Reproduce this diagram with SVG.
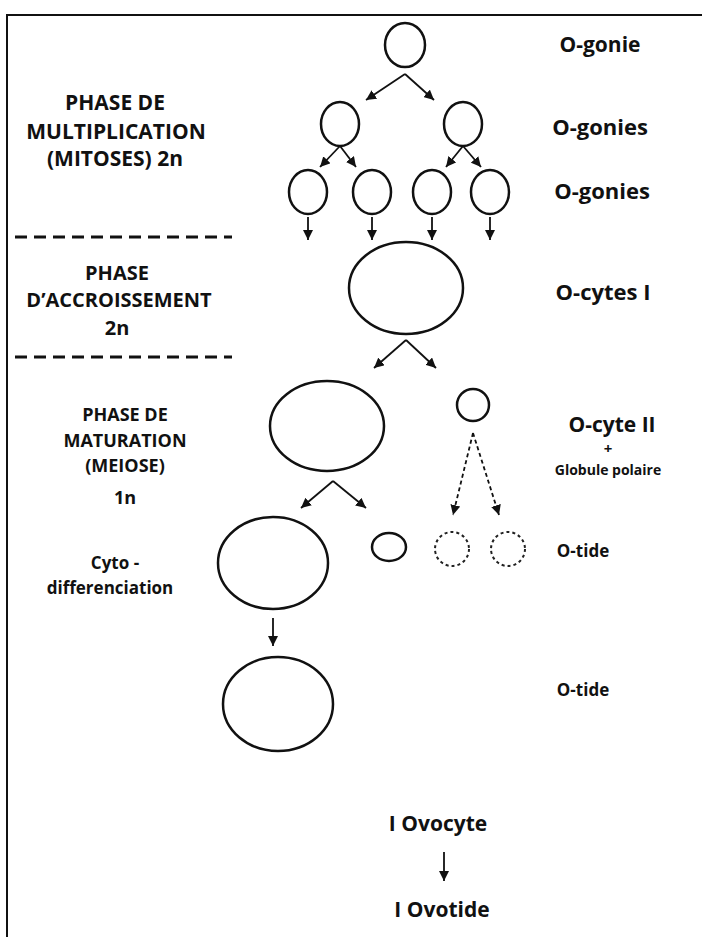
<svg xmlns="http://www.w3.org/2000/svg" width="702" height="937" viewBox="0 0 702 937">
<style>
.t{font-family:"Open Sans","Liberation Sans",sans-serif;font-weight:700;fill:#111;}
.c{fill:none;stroke:#111;stroke-width:2.5;}
.d{fill:none;stroke:#222;stroke-width:2;stroke-dasharray:3 3;}
.a{fill:none;stroke:#111;stroke-width:1.8;}
.ad{fill:none;stroke:#111;stroke-width:1.8;stroke-dasharray:4 3;}
.sep{stroke:#111;stroke-width:3;stroke-dasharray:12 7;}
</style>
<defs>
<marker id="ah" viewBox="0 0 10 10" refX="10" refY="5" markerWidth="10" markerHeight="10" markerUnits="userSpaceOnUse" orient="auto">
<path d="M0,0 L10,5 L0,10 z" fill="#111"/>
</marker>
</defs>
<rect x="0" y="0" width="702" height="937" fill="#fff"/>
<rect x="7" y="15" width="730" height="960" fill="none" stroke="#111" stroke-width="2"/>

<g id="labels-left">
<text class="t" x="115" y="110" font-size="21" text-anchor="middle">PHASE DE</text>
<text class="t" x="116" y="139" font-size="21" text-anchor="middle">MULTIPLICATION</text>
<text class="t" x="115" y="166" font-size="21" text-anchor="middle">(MITOSES) 2n</text>
<line class="sep" x1="15" y1="237" x2="232" y2="237"/>
<text class="t" x="117" y="280" font-size="20" text-anchor="middle">PHASE</text>
<text class="t" x="119" y="307" font-size="20" text-anchor="middle">D’ACCROISSEMENT</text>
<text class="t" x="117" y="335" font-size="20" text-anchor="middle">2n</text>
<line class="sep" x1="15" y1="357" x2="232" y2="357"/>
<text class="t" x="125" y="421" font-size="18" text-anchor="middle">PHASE DE</text>
<text class="t" x="125" y="447" font-size="18" text-anchor="middle">MATURATION</text>
<text class="t" x="125" y="472" font-size="18" text-anchor="middle">(MEIOSE)</text>
<text class="t" x="125" y="504" font-size="18" text-anchor="middle">1n</text>
<text class="t" x="115" y="569" font-size="17" text-anchor="middle">Cyto -</text>
<text class="t" x="110" y="594" font-size="17" text-anchor="middle">differenciation</text>
</g>

<g id="labels-right">
<text class="t" x="600" y="52" font-size="21" text-anchor="middle">O-gonie</text>
<text class="t" x="600" y="135" font-size="22" text-anchor="middle">O-gonies</text>
<text class="t" x="602" y="199" font-size="22" text-anchor="middle">O-gonies</text>
<text class="t" x="603" y="300" font-size="22" text-anchor="middle">O-cytes I</text>
<text class="t" x="612" y="432" font-size="21" text-anchor="middle">O-cyte II</text>
<text class="t" x="608" y="454" font-size="15" text-anchor="middle">+</text>
<text class="t" x="608" y="475" font-size="14" text-anchor="middle">Globule polaire</text>
<text class="t" x="583" y="557" font-size="17" text-anchor="middle">O-tide</text>
<text class="t" x="583" y="696" font-size="17" text-anchor="middle">O-tide</text>
</g>

<g id="n-ogonie"><ellipse class="c" cx="405" cy="45" rx="20" ry="22"/></g>
<g id="n-ogonies-1"><ellipse class="c" cx="340" cy="124" rx="19" ry="22"/></g>
<g id="n-ogonies-2"><ellipse class="c" cx="463" cy="124" rx="19" ry="22"/></g>
<g id="n-ogonies-3"><ellipse class="c" cx="308" cy="192" rx="19" ry="22"/></g>
<g id="n-ogonies-4"><ellipse class="c" cx="372" cy="192" rx="19" ry="22"/></g>
<g id="n-ogonies-5"><ellipse class="c" cx="432" cy="192" rx="19" ry="22"/></g>
<g id="n-ogonies-6"><ellipse class="c" cx="490" cy="192" rx="19" ry="22"/></g>
<g id="n-ocyte1"><ellipse class="c" cx="406" cy="288" rx="57" ry="46"/></g>
<g id="n-ocyte2"><ellipse class="c" cx="327" cy="426" rx="57" ry="45"/></g>
<g id="n-globule"><ellipse class="c" cx="473" cy="405" rx="16" ry="16"/></g>
<g id="n-otide-big"><ellipse class="c" cx="273" cy="563" rx="55" ry="46"/></g>
<g id="n-otide-small"><ellipse class="c" cx="389" cy="547" rx="17" ry="14"/></g>
<g id="n-otide-d1"><ellipse class="d" cx="452" cy="549" rx="17" ry="17"/></g>
<g id="n-otide-d2"><ellipse class="d" cx="508" cy="549" rx="17" ry="17"/></g>
<g id="n-otide2"><ellipse class="c" cx="278" cy="704" rx="55" ry="47"/></g>
<g id="n-ovocyte"><text class="t" x="438" y="831" font-size="21" text-anchor="middle">I Ovocyte</text></g>
<g id="n-ovotide"><text class="t" x="442" y="917" font-size="21" text-anchor="middle">I Ovotide</text></g>

<g id="connectors">
<line class="a" x1="405" y1="74" x2="366" y2="100" marker-end="url(#ah)"/>
<line class="a" x1="405" y1="74" x2="434" y2="100" marker-end="url(#ah)"/>
<line class="a" x1="340" y1="146" x2="320" y2="167" marker-end="url(#ah)"/>
<line class="a" x1="340" y1="146" x2="356" y2="167" marker-end="url(#ah)"/>
<line class="a" x1="463" y1="146" x2="446" y2="167" marker-end="url(#ah)"/>
<line class="a" x1="463" y1="146" x2="481" y2="167" marker-end="url(#ah)"/>
<line class="a" x1="308" y1="217" x2="308" y2="240" marker-end="url(#ah)"/>
<line class="a" x1="372" y1="217" x2="372" y2="240" marker-end="url(#ah)"/>
<line class="a" x1="432" y1="217" x2="432" y2="240" marker-end="url(#ah)"/>
<line class="a" x1="490" y1="217" x2="490" y2="240" marker-end="url(#ah)"/>
<line class="a" x1="406" y1="340" x2="374" y2="368" marker-end="url(#ah)"/>
<line class="a" x1="406" y1="340" x2="436" y2="368" marker-end="url(#ah)"/>
<line class="ad" x1="473" y1="433" x2="453" y2="515" marker-end="url(#ah)"/>
<line class="ad" x1="473" y1="433" x2="499" y2="515" marker-end="url(#ah)"/>
<line class="a" x1="333" y1="481" x2="301" y2="508" marker-end="url(#ah)"/>
<line class="a" x1="333" y1="481" x2="366" y2="508" marker-end="url(#ah)"/>
<line class="a" x1="273" y1="618" x2="273" y2="646" marker-end="url(#ah)"/>
<line class="a" x1="444" y1="852" x2="444" y2="881" marker-end="url(#ah)"/>
</g>
</svg>
